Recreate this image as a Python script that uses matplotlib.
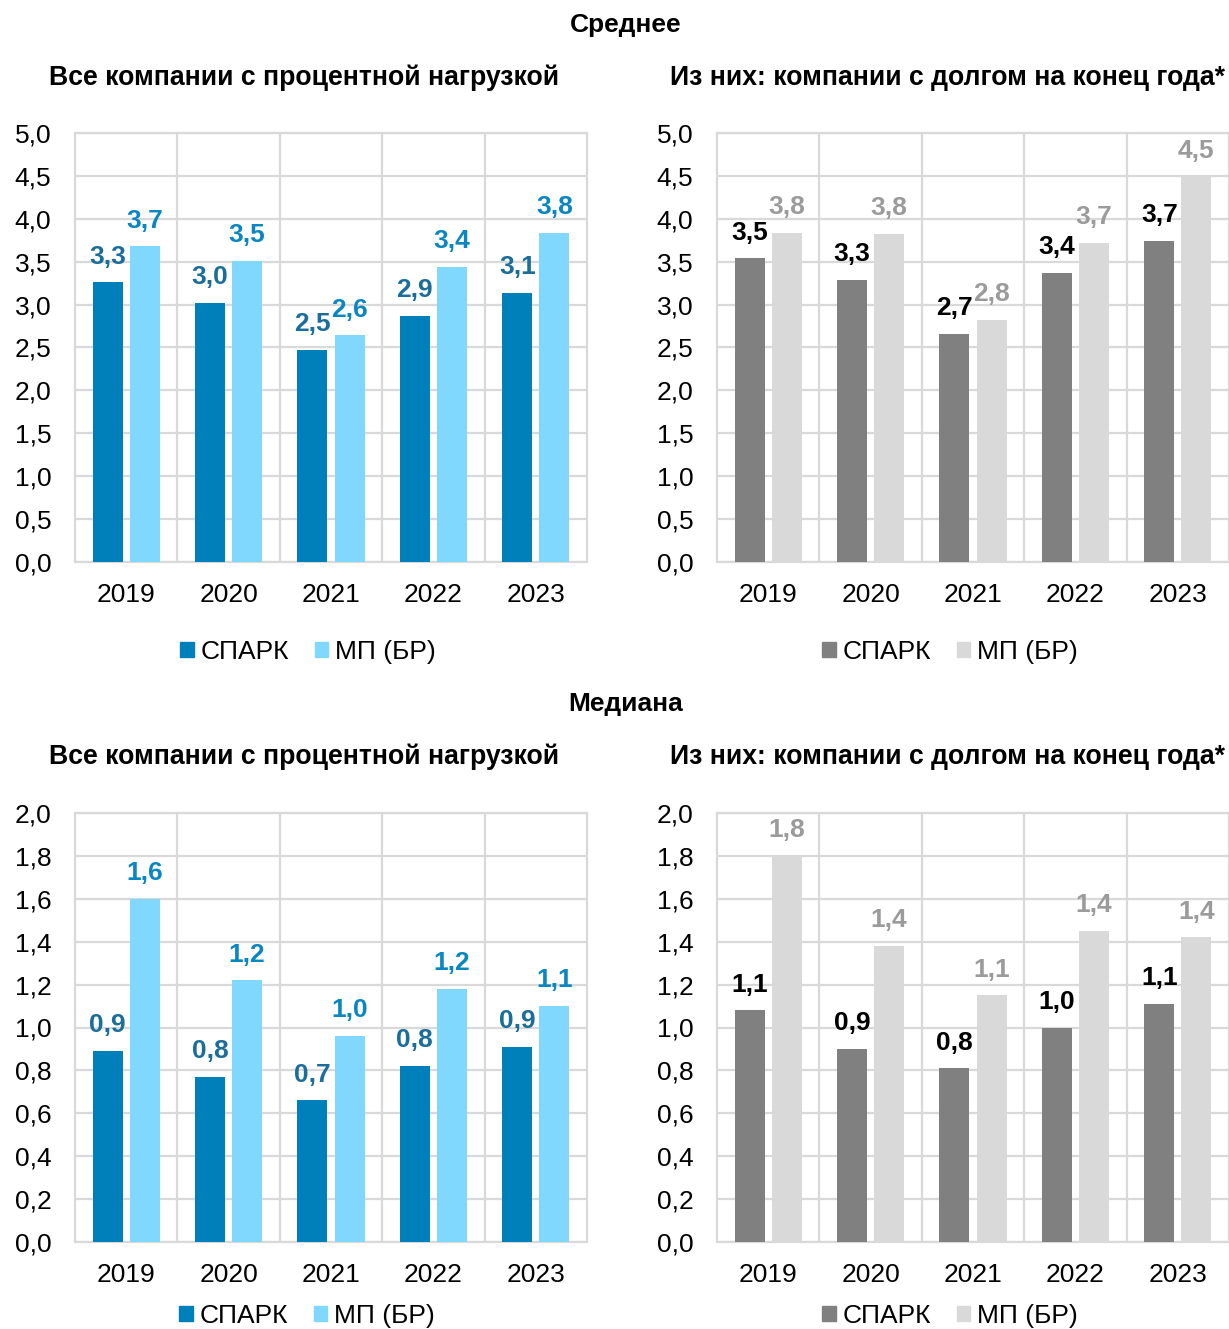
import numpy as np
import matplotlib
matplotlib.use("Agg")
import matplotlib.pyplot as plt
from matplotlib.patches import Rectangle

plt.rcParams['font.family'] = ['Liberation Sans', 'DejaVu Sans']

# данные
years = ['2019', '2020', '2021', '2022', '2023']

mean_all_spark = [3.26, 3.02, 2.47, 2.87, 3.14]
mean_all_mp = [3.68, 3.51, 2.64, 3.44, 3.84]
mean_debt_spark = [3.54, 3.29, 2.66, 3.37, 3.74]
mean_debt_mp = [3.84, 3.82, 2.82, 3.72, 4.49]

med_all_spark = [0.89, 0.77, 0.66, 0.82, 0.91]
med_all_mp = [1.60, 1.22, 0.96, 1.18, 1.10]
med_debt_spark = [1.08, 0.90, 0.81, 1.00, 1.11]
med_debt_mp = [1.80, 1.38, 1.15, 1.45, 1.42]

mean_ticks = [0.0, 0.5, 1.0, 1.5, 2.0, 2.5, 3.0, 3.5, 4.0, 4.5, 5.0]
med_ticks = [0.0, 0.2, 0.4, 0.6, 0.8, 1.0, 1.2, 1.4, 1.6, 1.8, 2.0]

series_names = ['СПАРК', 'МП (БР)']

# цвета
blue_dark = '#0080BA'
blue_light = '#80D8FF'
blue_lbl1 = '#1B6E9A'
blue_lbl2 = '#0A86C0'
grey_dark = '#808080'
grey_light = '#D9D9D9'
grey_lbl1 = '#000000'
grey_lbl2 = '#9B9B9B'
grid_col = '#D9D9D9'

FS = 19

W, H = 1229, 1329
fig = plt.figure(figsize=(W / 100, H / 100), dpi=100)


def px_axes(left, top, right, bottom):
    return fig.add_axes([left / W, 1 - bottom / H, (right - left) / W, (bottom - top) / H])


def fmt(v):
    return f'{v:.1f}'.replace('.', ',')


def draw_panel(ax, s1, s2, ticks, c1, c2, l1, l2):
    x = np.arange(len(years))
    w = 0.293
    off = 0.181
    b1 = ax.bar(x - off, s1, w, color=c1, zorder=3)
    b2 = ax.bar(x + off, s2, w, color=c2, zorder=3)
    for bars, vals, col in [(b1, s1, l1), (b2, s2, l2)]:
        for r, v in zip(bars, vals):
            ax.annotate(fmt(v), (r.get_x() + r.get_width() / 2, v),
                        xytext=(0, 13.5), textcoords='offset points',
                        ha='center', va='baseline', fontsize=FS,
                        fontweight='bold', color=col, zorder=4)
    ax.set_xlim(-0.5, len(years) - 0.5)
    ax.set_ylim(ticks[0], ticks[-1])
    ax.set_yticks(ticks)
    ax.set_yticklabels([fmt(t) for t in ticks])
    ax.set_xticks(x)
    ax.set_xticklabels(years)
    ax.set_xticks(np.arange(0.5, len(years) - 0.5, 1), minor=True)
    ax.tick_params(axis='both', which='both', length=0, labelsize=FS)
    ax.tick_params(axis='y', pad=17)
    ax.tick_params(axis='x', pad=15)
    ax.grid(axis='y', which='major', color=grid_col, linewidth=1.6, zorder=0)
    ax.grid(axis='x', which='minor', color=grid_col, linewidth=1.6, zorder=0)
    for sp in ax.spines.values():
        sp.set_color(grid_col)
        sp.set_linewidth(1.6)
    ax.set_axisbelow(True)
    for lbl in ax.get_yticklabels():
        lbl.set_y(lbl.get_position()[1])


def legend_at(cx, cy, c1, c2):
    handles = [Rectangle((0, 0), 1, 1, color=c1), Rectangle((0, 0), 1, 1, color=c2)]
    fig.legend(handles, series_names, loc='center', bbox_to_anchor=(cx / W, 1 - cy / H),
               ncol=2, frameon=False, fontsize=FS, handlelength=0.5, handleheight=0.5,
               handletextpad=0.25, columnspacing=1.0, borderaxespad=0, borderpad=0)


ax1 = px_axes(75, 133, 587, 562)
ax2 = px_axes(717, 133, 1229, 562)
ax3 = px_axes(75, 813, 587, 1242)
ax4 = px_axes(717, 813, 1229, 1242)

draw_panel(ax1, mean_all_spark, mean_all_mp, mean_ticks, blue_dark, blue_light, blue_lbl1, blue_lbl2)
draw_panel(ax2, mean_debt_spark, mean_debt_mp, mean_ticks, grey_dark, grey_light, grey_lbl1, grey_lbl2)
draw_panel(ax3, med_all_spark, med_all_mp, med_ticks, blue_dark, blue_light, blue_lbl1, blue_lbl2)
draw_panel(ax4, med_debt_spark, med_debt_mp, med_ticks, grey_dark, grey_light, grey_lbl1, grey_lbl2)

legend_at(308, 652, blue_dark, blue_light)
legend_at(950, 652, grey_dark, grey_light)
legend_at(307, 1316, blue_dark, blue_light)
legend_at(950, 1316, grey_dark, grey_light)

# заголовки
fig.text(626 / W, 1 - 25 / H, 'Среднее', ha='center', va='center', fontsize=FS, fontweight='bold')
fig.text(626 / W, 1 - 704 / H, 'Медиана', ha='center', va='center', fontsize=FS, fontweight='bold')
for y in (78, 757):
    fig.text(304 / W, 1 - y / H, 'Все компании с процентной нагрузкой',
             ha='center', va='center', fontsize=FS + 0.2, fontweight='bold')
    fig.text(947 / W, 1 - y / H, 'Из них: компании с долгом на конец года*',
             ha='center', va='center', fontsize=FS + 0.2, fontweight='bold')

fig.savefig('out.png', dpi=100)
